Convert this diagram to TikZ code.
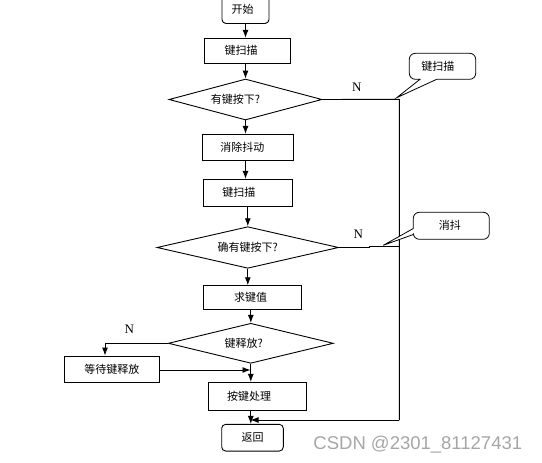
\documentclass[tikz,border=0pt]{standalone}
\usepackage{fontspec}
\setmainfont{Liberation Serif}
\newfontfamily\cjk{Noto Sans CJK SC}
\newfontfamily\wmfont{Liberation Sans}
\usetikzlibrary{shapes.geometric,arrows.meta}
\newcommand\shx[2]{\makebox[0pt]{\hspace*{#1}#2\hspace*{-#1}}}
\begin{document}
\begin{tikzpicture}[x=1pt,y=-1pt,line width=0.9pt,
  txt/.style={font=\cjk\fontsize{11}{13}\selectfont},
  procbox/.style={draw,rectangle,txt,inner sep=0pt},
  termbox/.style={draw,rectangle,rounded corners=4pt,txt,inner sep=0pt},
  decbox/.style={draw,diamond,txt,inner sep=0pt,aspect=3},
  arr/.style={-{Latex[length=8pt,width=6pt]}},
  nlabel/.style={font=\fontsize{13}{15}\selectfont},
  callout/.style={draw,fill=white,line width=0.8pt}]
\useasboundingbox (0,0) rectangle (542,463);
\clip (0,0) rectangle (542,463);

% nodes
\node[termbox,minimum width=47pt,minimum height=28pt] (start) at (245.5,9.5) {\raisebox{-1pt}{\shx{-3pt}{开始}}};
\node[procbox,minimum width=86pt,minimum height=25pt] (scan1) at (247,50.8) {\shx{-6pt}{键扫描}};
\node[decbox,minimum width=153pt,minimum height=41pt] (d1) at (245.5,99.5) {\shx{-10pt}{有键按下?}};
\node[procbox,minimum width=91pt,minimum height=25.7pt] (denoise) at (247.8,147.2) {\shx{-5.5pt}{消除抖动}};
\node[procbox,minimum width=89pt,minimum height=26.7pt] (scan2) at (247.8,192.7) {\shx{-9pt}{键扫描}};
\node[decbox,minimum width=181.6pt,minimum height=41.6pt] (d2) at (247.8,247.5) {确有键按下?};
\node[procbox,minimum width=97.7pt,minimum height=23.6pt] (getval) at (252.2,297.5) {\shx{-1.5pt}{求键值}};
\node[decbox,minimum width=165pt,minimum height=40pt] (d3) at (250.8,343.3) {\shx{-7pt}{键释放?}};
\node[procbox,minimum width=95pt,minimum height=26pt] (wait) at (111.8,369) {等待键释放};
\node[procbox,minimum width=97.7pt,minimum height=27.7pt] (proc) at (257.2,396.2) {\shx{-8pt}{按键处理}};
\node[termbox,minimum width=61.6pt,minimum height=26.7pt] (ret) at (252.5,437.7) {返回};

% helper coordinates
\coordinate (c1) at (399.3,99.3);
\coordinate (c2) at (399.3,420);
\coordinate (c3) at (250.5,420);
\coordinate (s1) at (369.3,248.3);
\coordinate (s2) at (369.3,246.8);
\coordinate (s3) at (399.3,246.8);
\coordinate (w1) at (105,343.3);
\coordinate (w2) at (250.5,370);

% connectors
\draw[arr] (start.south) -- (start.south |- scan1.north);
\draw[arr] (d1.north |- scan1.south) -- (d1.north);
\draw[arr] (d1.south) -- (d1.south |- denoise.north);
\draw[arr] (d1.south |- denoise.south) -- (d1.south |- scan2.north);
\draw[arr] (d2.north |- scan2.south) -- (d2.north);
\draw[arr] (d2.south) -- (d2.south |- getval.north);
\draw[arr] (d3.north |- getval.south) -- (d3.north);
\draw[arr] (d3.south) -- (d3.south |- proc.north);
\draw[arr] (d3.south |- proc.south) -- (d3.south |- ret.north);
\draw (d1.east) -- (c1) -- (c2);
\draw[arr] (c2) -- (c3);
\draw (d2.east) -- (d2.east -| s1) -- (s2) -- (s3);
\draw[arr] (d3.west) -- (w1) -- (w1 |- wait.north);
\draw[arr] (wait.east |- w2) -- (w2);

% N labels
\node[nlabel] (n1) at (356.7,87.5) {N};
\node[nlabel] (n2) at (358.3,234) {N};
\node[nlabel] (n3) at (129.3,329.5) {N};

% callouts
\draw[callout] (420,79.3) -- (396.7,97.7) -- (436.7,79.3)
  [rounded corners=6pt] -- (475.7,79.3) -- (475.7,53.3) -- (409.3,53.3) -- (409.3,79.3) [sharp corners] -- cycle;
\node[txt] (cb1) at (437.8,66.3) {键扫描};
\draw[callout] (413.3,234.5) -- (383.3,245.3) -- (413.3,228.5)
  [rounded corners=6pt] -- (413.3,212.3) -- (489.3,212.3) -- (489.3,239.3) -- (413.3,239.3) [sharp corners] -- cycle;
\node[txt] (cb2) at (449.8,225.8) {消抖};

% watermark
\node[font=\wmfont\fontsize{18.5}{20}\selectfont,text=black!35,anchor=west,inner sep=0pt] (wm) at (313,444.5) {CSDN @2301\_81127431};
\end{tikzpicture}
\end{document}
